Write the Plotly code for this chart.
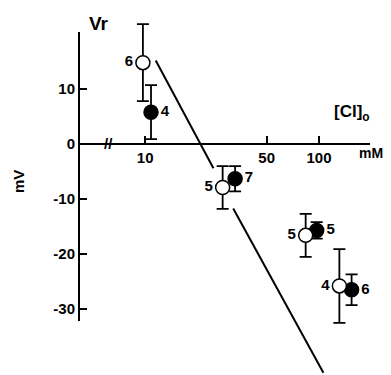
import plotly.graph_objects as go

W, H = 391, 375
OFF = 8  # the page body adds an 8px margin, so the figure is shifted back by it
FW, FH = W - OFF, H - OFF

# values: external Cl (mM) and reversal potential Vr (mV)
open_cl = [9.7, 27.9, 83.8, 131]
open_vr = [14.7, -8.0, -16.7, -25.9]
open_err = [7.0, 3.9, 3.9, 6.7]
open_n = ['6', '5', '5', '4']

filled_cl = [10.8, 32.9, 97, 154]
filled_vr = [5.7, -6.4, -15.8, -26.6]
filled_err = [4.9, 2.3, 1.5, 2.8]
filled_n = ['4', '7', '5', '6']

# straight (Nernst-like) line, interrupted where it passes the points
line_cl = [11.5, 24.7, None, 32.1, 106]
line_vr = [15.1, -4.5, None, -11.8, -41.7]

x_ticks = [10, 50, 100]
y_ticks = [-30, -20, -10, 0, 10]

# pixel <-> data mapping of the scanned figure
def lx(p):
    return 1 + (p - 145.2) / 173.8

def vy(p):
    return (143.5 - p) / 5.5

def paper_x(p):
    return (p - OFF) / FW

def paper_y(p):
    return 1 - (p - OFF) / FH

FONT = dict(family="Liberation Sans, Arial, sans-serif", size=15, color="black", weight="bold")

fig = go.Figure()

# filled circles first, open circles drawn on top
fig.add_trace(go.Scatter(
    x=filled_cl, y=filled_vr, mode='markers+text', text=filled_n,
    textposition='middle right', textfont=FONT,
    marker=dict(size=14, color='black', line=dict(color='black', width=1.5)),
    error_y=dict(type='data', array=filled_err, color='black', thickness=1.8, width=6),
    cliponaxis=False, showlegend=False))

fig.add_trace(go.Scatter(
    x=open_cl, y=open_vr, mode='markers+text', text=open_n,
    textposition='middle left', textfont=FONT,
    marker=dict(size=14, color='white', line=dict(color='black', width=1.5)),
    error_y=dict(type='data', array=open_err, color='black', thickness=1.8, width=6),
    cliponaxis=False, showlegend=False))

fig.add_trace(go.Scatter(
    x=line_cl, y=line_vr, mode='lines', line=dict(color='black', width=2),
    connectgaps=False, showlegend=False))

# empty trace so the visible frame axes get drawn
fig.add_trace(go.Scatter(x=[], y=[], xaxis='x2', yaxis='y2', showlegend=False, hoverinfo='skip'))

ann = dict(xref='paper', yref='paper', showarrow=False, xanchor='center', yanchor='middle')

fig.update_layout(
    width=FW, height=FH, autosize=False,
    margin=dict(l=0, r=0, t=0, b=0, pad=0),
    paper_bgcolor='white', plot_bgcolor='rgba(0,0,0,0)',
    xaxis=dict(type='log', range=[lx(OFF), lx(W)], domain=[0, 1], visible=False),
    yaxis=dict(range=[vy(H), vy(OFF)], domain=[0, 1], visible=False),
    xaxis2=dict(type='log', range=[lx(79), lx(370)], domain=[paper_x(79), paper_x(370)],
                anchor='free', position=paper_y(143.5),
                showline=True, linecolor='black', linewidth=2,
                ticks='inside', ticklen=7, tickwidth=2, tickcolor='black',
                tickvals=x_ticks, ticktext=[str(v) for v in x_ticks],
                tickfont=FONT, showgrid=False, zeroline=False),
    yaxis2=dict(range=[vy(321), vy(32)], domain=[paper_y(321), paper_y(32)],
                anchor='free', position=paper_x(79),
                showline=True, linecolor='black', linewidth=2,
                ticks='inside', ticklen=7, tickwidth=2, tickcolor='black',
                tickvals=y_ticks, ticktext=[str(v) for v in y_ticks],
                tickfont=FONT, showgrid=False, zeroline=False),
    annotations=[
        dict(ann, text='Vr', x=paper_x(99), y=paper_y(23), font=dict(FONT, size=19)),
        dict(ann, text='mV', x=paper_x(18), y=paper_y(182), textangle=-90, font=FONT),
        dict(ann, text='[Cl]<sub>o</sub>', x=paper_x(352), y=paper_y(113), font=dict(FONT, size=17)),
        dict(ann, text='mM', x=paper_x(371), y=paper_y(153), font=dict(FONT, size=14)),
        dict(ann, text='//', x=paper_x(108), y=paper_y(144), font=dict(FONT, size=15)),
    ],
)

fig.write_html("out.html")
